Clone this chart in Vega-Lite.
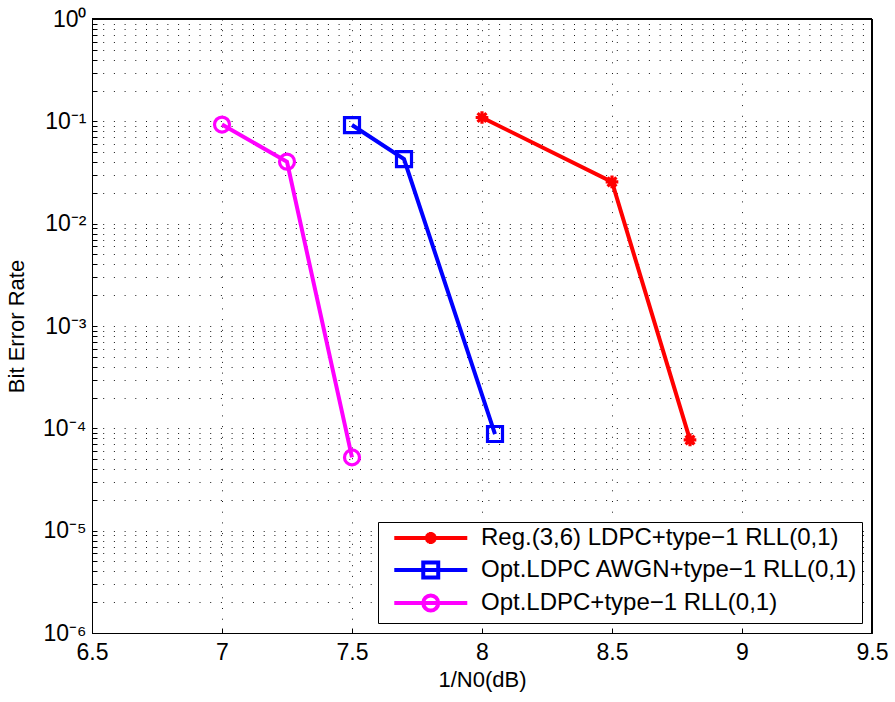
{
  "$schema": "https://vega.github.io/schema/vega-lite/v6.json",
  "width": 780,
  "height": 614,
  "autosize": {"type": "none"},
  "padding": {"left": 92, "top": 19, "right": 23, "bottom": 69},
  "background": "white",
  "config": {
    "font": "Liberation Sans",
    "view": {"stroke": "#000", "strokeWidth": 1},
    "axis": {
      "domainColor": "#000",
      "domainWidth": 1,
      "tickColor": "#000",
      "tickWidth": 1,
      "tickSize": -5,
      "labelColor": "#000",
      "titleColor": "#000",
      "labelFont": "Liberation Sans",
      "titleFont": "Liberation Sans",
      "labelFontSize": 23,
      "titleFontSize": 22,
      "titleFontWeight": "normal",
      "labelFlush": false,
      "gridColor": "#000",
      "gridDash": [1, 9.7],
      "gridOpacity": 0.9,
      "gridWidth": 1
    }
  },
  "data": {
    "values": [
      {"series": "Reg.(3,6) LDPC+type−1 RLL(0,1)", "x": 8.0, "ber": 0.109},
      {"series": "Reg.(3,6) LDPC+type−1 RLL(0,1)", "x": 8.5, "ber": 0.0256},
      {"series": "Reg.(3,6) LDPC+type−1 RLL(0,1)", "x": 8.8, "ber": 0.000077},
      {"series": "Opt.LDPC AWGN+type−1 RLL(0,1)", "x": 7.5, "ber": 0.092},
      {"series": "Opt.LDPC AWGN+type−1 RLL(0,1)", "x": 7.7, "ber": 0.0428},
      {"series": "Opt.LDPC AWGN+type−1 RLL(0,1)", "x": 8.05, "ber": 0.000088},
      {"series": "Opt.LDPC+type−1 RLL(0,1)", "x": 7.0, "ber": 0.093},
      {"series": "Opt.LDPC+type−1 RLL(0,1)", "x": 7.25, "ber": 0.0403},
      {"series": "Opt.LDPC+type−1 RLL(0,1)", "x": 7.5, "ber": 0.000052}
    ]
  },
  "layer": [
    {
      "mark": {"type": "line", "strokeWidth": 4, "strokeCap": "butt"},
      "encoding": {
        "x": {
          "field": "x", "type": "quantitative",
          "scale": {"domain": [6.5, 9.5], "nice": false, "zero": false},
          "axis": {
            "orient": "bottom",
            "title": "1/N0(dB)",
            "values": [6.5, 7, 7.5, 8, 8.5, 9, 9.5],
            "format": "~g",
            "grid": true,
            "labelPadding": 13,
            "titlePadding": 5
          }
        },
        "y": {
          "field": "ber", "type": "quantitative",
          "scale": {"type": "log", "domain": [0.000001, 1], "nice": false},
          "axis": {
            "orient": "left",
            "title": "Bit Error Rate",
            "values": [0.000001,0.000002,0.000003,0.000004,0.000005,0.000006,0.000007,0.000008,0.000009,
                       0.00001,0.00002,0.00003,0.00004,0.00005,0.00006,0.00007,0.00008,0.00009,
                       0.0001,0.0002,0.0003,0.0004,0.0005,0.0006,0.0007,0.0008,0.0009,
                       0.001,0.002,0.003,0.004,0.005,0.006,0.007,0.008,0.009,
                       0.01,0.02,0.03,0.04,0.05,0.06,0.07,0.08,0.09,
                       0.1,0.2,0.3,0.4,0.5,0.6,0.7,0.8,0.9,1],
            "labelExpr": "abs(log(datum.value)/LN10 - round(log(datum.value)/LN10)) < 0.000001 ? ['10⁰','10⁻¹','10⁻²','10⁻³','10⁻⁴','10⁻⁵','10⁻⁶'][round(-log(datum.value)/LN10)] : ''",
            "grid": true,
            "labelPadding": 11,
            "titlePadding": 14
          }
        },
        "color": {
          "field": "series", "type": "nominal",
          "scale": {
            "domain": ["Reg.(3,6) LDPC+type−1 RLL(0,1)", "Opt.LDPC AWGN+type−1 RLL(0,1)", "Opt.LDPC+type−1 RLL(0,1)"],
            "range": ["#ff0000", "#0000ff", "#ff00ff"]
          },
          "legend": {
            "title": null,
            "orient": "bottom-right",
            "offset": 10,
            "padding": 4,
            "strokeColor": "#000",
            "fillColor": "#fff",
            "labelFont": "Liberation Sans",
            "labelFontSize": 24,
            "labelColor": "#000",
            "labelLimit": 600,
            "labelOffset": 75,
            "rowPadding": 1,
            "symbolStrokeWidth": 4,
            "symbolSize": 196,
            "symbolOpacity": 1,
            "encode": {
              "symbols": {
                "update": {
                  "shape": {"signal": "datum.value == 'Reg.(3,6) LDPC+type−1 RLL(0,1)' ? 'M0.04,0H10.47M4.39,0H6.11M5.25,-0.86V0.86M4.65,-0.6L5.85,0.6M4.65,0.6L5.85,-0.6' : datum.value == 'Opt.LDPC AWGN+type−1 RLL(0,1)' ? 'M0.04,0H10.47M4.18,-1.07H6.32V1.07H4.18Z' : 'M0.04,0H10.47M6.32,0A1.07,1.07 0 1,1 4.18,0A1.07,1.07 0 1,1 6.32,0'"},
                  "size": {"value": 196},
                  "fill": {"value": "transparent"},
                  "strokeWidth": {"value": 4}
                }
              }
            }
          }
        }
      }
    },
    {
      "mark": {"type": "rule", "color": "#000", "strokeWidth": 1},
      "encoding": {"x": {"datum": 9.5, "type": "quantitative"}}
    },
    {
      "mark": {"type": "rule", "color": "#000", "strokeWidth": 1},
      "encoding": {"y": {"datum": 1, "type": "quantitative"}}
    },
    {
      "transform": [{"filter": "datum.series == 'Reg.(3,6) LDPC+type−1 RLL(0,1)'"}],
      "mark": {"type": "point", "filled": false, "stroke": "#ff0000", "strokeWidth": 3.2, "size": 160, "opacity": 1,
               "shape": "M-1,0H1M0,-1V1M-0.7,-0.7L0.7,0.7M-0.7,0.7L0.7,-0.7"},
      "encoding": {
        "x": {"field": "x", "type": "quantitative"},
        "y": {"field": "ber", "type": "quantitative"}
      }
    },
    {
      "transform": [{"filter": "datum.series == 'Opt.LDPC AWGN+type−1 RLL(0,1)'"}],
      "mark": {"type": "point", "filled": false, "stroke": "#0000ff", "strokeWidth": 3.2, "size": 225, "opacity": 1, "shape": "square"},
      "encoding": {
        "x": {"field": "x", "type": "quantitative"},
        "y": {"field": "ber", "type": "quantitative"}
      }
    },
    {
      "transform": [{"filter": "datum.series == 'Opt.LDPC+type−1 RLL(0,1)'"}],
      "mark": {"type": "point", "filled": false, "stroke": "#ff00ff", "strokeWidth": 3.2, "size": 225, "opacity": 1, "shape": "circle"},
      "encoding": {
        "x": {"field": "x", "type": "quantitative"},
        "y": {"field": "ber", "type": "quantitative"}
      }
    }
  ]
}
